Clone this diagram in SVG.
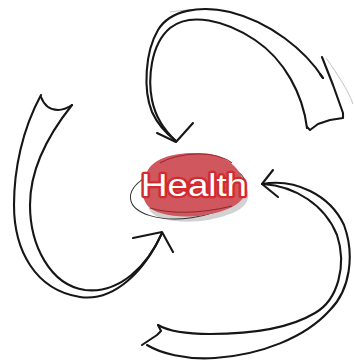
<svg xmlns="http://www.w3.org/2000/svg" width="355" height="360" viewBox="0 0 355 360">
<style>
.ink{fill:none;stroke:#161616;stroke-width:2.1;stroke-linecap:round;stroke-linejoin:round}
.faint{fill:none;stroke:#c4c4c4;stroke-width:1}
.lbl{font-family:"Liberation Sans",Arial,sans-serif;font-weight:normal;font-size:32px;fill:#ffffff;stroke:#d42a2e;stroke-width:4.5;paint-order:stroke;stroke-linejoin:round}
</style>
<rect width="355" height="360" fill="#ffffff"/>
<g id="connectors">
<g id="arrow-top">
<path class="faint" d="M170,12 C190,9 205,9 218,10"/>
<path class="faint" d="M326,58 C338,75 348,90 353,104"/>
<path class="ink" d="M307,128 C303,95 285,60 255,40 C225,20 190,12 170,28 C150,45 148,80 152,100 C156,120 166,132 176,141"/>
<path class="ink" d="M323,78 C305,50 270,22 230,12 C200,5 170,10 158,30 C145,52 143,90 152,112 C158,125 168,135 176,141"/>
<path class="ink" d="M320,74 L323,78 M322,57 L333,85 L343,113 L343,118 L330,120 L318,124 L310,130 L307,127"/>
<path class="ink" d="M157,133 L176,142 L193,123"/>
</g>
<g id="arrow-left">
<path class="ink" d="M41,95 C22,130 14,170 14,205 C14,250 35,290 80,297 C115,302 145,270 162,233"/>
<path class="ink" d="M72,105 C48,135 30,170 30,205 C30,245 50,285 85,290 C120,294 148,265 162,233"/>
<path class="ink" d="M41,97 C44,105 50,110 58,110 C64,110 69,107 72,105"/>
<path class="ink" d="M133,238 L162,232 L173,252"/>
</g>
<g id="arrow-bottom">
<path class="ink" d="M262,184 C295,178 330,195 344,225 C355,255 350,290 330,310 C305,338 260,355 215,358 C185,360 160,353 147,345"/>
<path class="ink" d="M263,184 C295,186 325,205 337,235 C347,265 338,300 315,313 C290,328 250,334 210,334 C185,334 168,331 158,325"/>
<path class="ink" d="M158,325 L161,331 L157,335 L148,341 L142,345"/>
<path class="ink" d="M273,170 L262,184 L278,197"/>
</g>
</g>
<g id="health">
<path d="M152,178 C158,166 175,160 200,160 C226,159 243,172 248,192 C250,206 238,214 208,220 C183,224 158,221 150,211 C144,200 146,188 152,178 Z" fill="#d2d2d2"/>
<ellipse cx="188" cy="191" rx="58" ry="27" transform="rotate(-8 188 191)" fill="none" stroke="#333" stroke-width="1"/>
<path d="M147,172 C152,160 170,153 195,153 C222,152 240,165 245,185 C248,200 235,210 205,215 C180,219 155,215 147,205 C140,195 141,182 147,172 Z" fill="#cf575d"/>
<path d="M160,163 C180,152 215,150 232,163" fill="none" stroke="#9e2a30" stroke-width="1.2"/>
<path d="M150,208 C170,214 200,214 232,206" fill="none" stroke="#8a2a2e" stroke-width="1"/>
<text class="lbl" x="141" y="196" textLength="106" lengthAdjust="spacingAndGlyphs">Health</text>
</g>
</svg>
